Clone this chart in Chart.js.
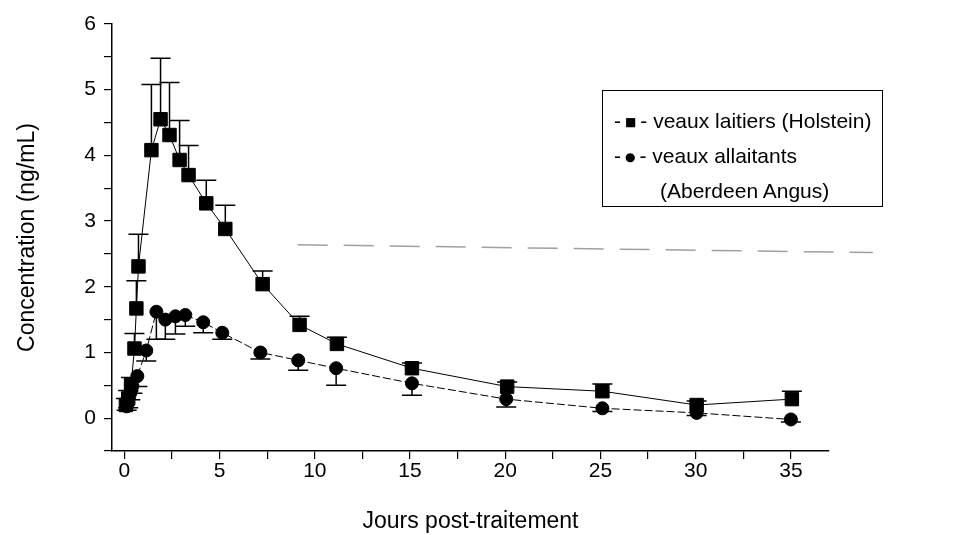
<!DOCTYPE html>
<html>
<head>
<meta charset="utf-8">
<script src="https://cdn.jsdelivr.net/npm/chart.js@4"></script>
<style>
    html, body { margin: 0; padding: 0; background: #fff; }
    #wrap { position: relative; width: 956px; height: 535px; }
    #legendBox {
        position: absolute; left: 602px; top: 90px; width: 281px; height: 117px;
        border: 1.5px solid #000; box-sizing: border-box;
        font-family: "Liberation Sans", Arial, sans-serif; font-size: 21px; color: #000;
        padding: 13px 0 0 11px; line-height: 33px;
    }
    #legendBox .sym { font-family: "DejaVu Sans", sans-serif; font-size: 12px; vertical-align: 2px; margin: 0 4px; }
</style>
</head>
<body>
<div id="wrap">
    <canvas id="pkChart" width="956" height="535"></canvas>
    <div id="legendBox">
        <div>-<span class="sym">■</span>- veaux laitiers (Holstein)</div>
        <div>-<span class="sym">●</span>- veaux allaitants</div>
        <div style="padding-left:46px">(Aberdeen Angus)</div>
    </div>
</div>
<script>
// jours post-traitement / concentration (ng/mL)
const holsteinDays = [0.08, 0.2, 0.35, 0.53, 0.63, 0.74, 1.42, 1.9, 2.37, 2.9, 3.37, 4.3, 5.3, 7.26, 9.2, 11.16, 15.1, 20.1, 25.1, 30.05, 35.05];
const holsteinConc = [0.2, 0.3, 0.5, 1.06, 1.67, 2.31, 4.08, 4.55, 4.31, 3.93, 3.70, 3.27, 2.88, 2.04, 1.42, 1.13, 0.76, 0.48, 0.41, 0.20, 0.29];
const holsteinUpper = [0.3, 0.42, 0.62, 1.29, 2.09, 2.80, 5.08, 5.48, 5.11, 4.53, 4.15, 3.62, 3.24, 2.24, 1.55, 1.23, 0.84, 0.55, 0.52, 0.26, 0.41];

const angusDays = [0.12, 0.2, 0.31, 0.42, 0.68, 1.15, 1.68, 2.15, 2.68, 3.2, 4.14, 5.14, 7.14, 9.13, 11.12, 15.1, 20.05, 25.1, 30.05, 35.0];
const angusConc = [0.18, 0.24, 0.38, 0.49, 0.64, 1.03, 1.62, 1.50, 1.55, 1.57, 1.46, 1.30, 1.00, 0.88, 0.76, 0.53, 0.29, 0.15, 0.08, -0.02];
const angusLower = [0.12, 0.16, 0.28, 0.38, 0.48, 0.87, 1.20, 1.20, 1.28, 1.40, 1.30, 1.20, 0.90, 0.73, 0.50, 0.35, 0.17, 0.10, 0.04, -0.06];

// trait pointillé gris (défaut de numérisation de l'original)
const artifactDays = [9.1, 39.3];
const artifactConc = [2.64, 2.52];

const xTicksMajor = [0, 5, 10, 15, 20, 25, 30, 35];
const yTicksMajor = [0, 1, 2, 3, 4, 5, 6];

const FONT = '"Liberation Sans", Arial, sans-serif';

function zip(xs, ys) { return xs.map((x, i) => ({ x: x, y: ys[i] })); }

const errorBars = {
    id: 'errorBars',
    afterDatasetsDraw(chart) {
        const { ctx, scales: { x, y } } = chart;
        chart.data.datasets.forEach(ds => {
            if (!ds.errTo) return;
            ctx.save();
            ctx.strokeStyle = '#000';
            ctx.lineWidth = 1.5;
            ds.data.forEach((p, j) => {
                const px = x.getPixelForValue(p.x);
                const py = y.getPixelForValue(p.y);
                const pe = y.getPixelForValue(ds.errTo[j]);
                ctx.beginPath();
                ctx.moveTo(px, py); ctx.lineTo(px, pe);
                ctx.moveTo(px - 10, pe); ctx.lineTo(px + 10, pe);
                ctx.stroke();
            });
            ctx.restore();
        });
    }
};

new Chart(document.getElementById('pkChart').getContext('2d'), {
    type: 'scatter',
    data: {
        datasets: [
            {
                label: 'scan',
                data: zip(artifactDays, artifactConc),
                showLine: true, clip: false,
                borderColor: '#a0a0a0', borderWidth: 1.5, borderDash: [30, 16],
                pointRadius: 0,
            },
            {
                label: 'veaux allaitants (Aberdeen Angus)',
                data: zip(angusDays, angusConc), errTo: angusLower,
                showLine: true, borderColor: '#000', borderWidth: 1, borderDash: [8, 3],
                pointStyle: 'circle', pointRadius: 6.5,
                pointBackgroundColor: '#000', pointBorderColor: '#000',
            },
            {
                label: 'veaux laitiers (Holstein)',
                data: zip(holsteinDays, holsteinConc), errTo: holsteinUpper,
                showLine: true, borderColor: '#000', borderWidth: 1,
                pointStyle: 'rect', pointRadius: 9.5,
                pointBackgroundColor: '#000', pointBorderColor: '#000',
            },
        ]
    },
    options: {
        responsive: false, animation: false,
        layout: { padding: { left: 14, right: 127, top: 24, bottom: 0 } },
        plugins: { legend: { display: false }, tooltip: { enabled: false } },
        scales: {
            x: {
                type: 'linear', min: -0.65, max: 37,
                afterFit(s) { s.height = 84; },
                border: { display: true, color: '#000', width: 1.5 },
                grid: { drawOnChartArea: false, drawTicks: true, tickLength: 8, color: '#000', lineWidth: 1.2 },
                ticks: {
                    stepSize: 2.5, includeBounds: false, autoSkip: false, maxRotation: 0,
                    padding: 0, color: '#000', font: { family: FONT, size: 21 },
                    callback: v => xTicksMajor.includes(v) ? String(v) : '',
                },
                title: {
                    display: true, text: 'Jours post-traitement', color: '#000',
                    font: { family: FONT, size: 23 }, padding: 0,
                },
            },
            y: {
                type: 'linear', min: -0.5, max: 6,
                afterFit(s) { s.width = 98; },
                border: { display: true, color: '#000', width: 1.5 },
                grid: { drawOnChartArea: false, drawTicks: true, tickLength: 8, color: '#000', lineWidth: 1.2 },
                ticks: {
                    stepSize: 0.5, includeBounds: false, autoSkip: false,
                    padding: 8, color: '#000', font: { family: FONT, size: 21 },
                    callback: v => yTicksMajor.includes(v) ? String(v) : '',
                },
                title: {
                    display: true, text: 'Concentration (ng/mL)', color: '#000',
                    font: { family: FONT, size: 23 }, padding: 0,
                },
            },
        }
    },
    plugins: [errorBars]
});
</script>
</body>
</html>
